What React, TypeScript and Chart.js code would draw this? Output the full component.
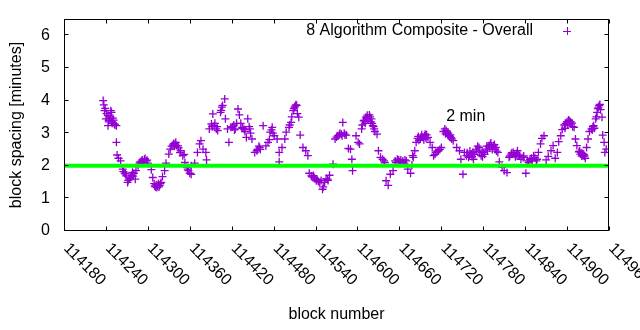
import React, { useEffect, useRef } from "react";
import { Chart, registerables } from "chart.js";

Chart.register(...registerables);

const blocks = [
  114236, 114237, 114238, 114239, 114240, 114241, 114243, 114243, 114244, 114245,
  114246, 114247, 114248, 114248, 114249, 114250, 114251, 114252, 114253, 114255,
  114255, 114256, 114258, 114261, 114264, 114265, 114267, 114268, 114269, 114271,
  114272, 114274, 114275, 114277, 114278, 114279, 114280, 114282, 114283, 114286,
  114288, 114289, 114291, 114292, 114294, 114295, 114296, 114298, 114299, 114300,
  114305, 114307, 114309, 114310, 114311, 114312, 114313, 114314, 114315, 114316,
  114317, 114318, 114319, 114321, 114324, 114326, 114330, 114332, 114334, 114336,
  114337, 114338, 114339, 114340, 114341, 114343, 114344, 114346, 114347, 114350,
  114352, 114353, 114356, 114357, 114358, 114360, 114362, 114362, 114367, 114371,
  114374, 114376, 114379, 114383, 114384, 114388, 114391, 114392, 114393, 114395,
  114396, 114398, 114399, 114400, 114404, 114405, 114406, 114407, 114410, 114411,
  114414, 114416, 114419, 114421, 114423, 114424, 114425, 114427, 114429, 114431,
  114433, 114435, 114436, 114438, 114439, 114441, 114443, 114445, 114446, 114447,
  114449, 114453, 114456, 114457, 114459, 114460, 114461, 114465, 114469, 114472,
  114474, 114475, 114477, 114478, 114479, 114481, 114485, 114488, 114488, 114492,
  114496, 114498, 114502, 114503, 114505, 114506, 114508, 114509, 114510, 114511,
  114512, 114513, 114514, 114516, 114518, 114522, 114526, 114529, 114531, 114534,
  114535, 114537, 114538, 114539, 114541, 114542, 114544, 114546, 114548, 114550,
  114551, 114553, 114555, 114557, 114558, 114560, 114565, 114568, 114570, 114572,
  114574, 114575, 114577, 114578, 114579, 114581, 114582, 114584, 114587, 114590,
  114592, 114593, 114598, 114601, 114603, 114606, 114607, 114609, 114610, 114611,
  114612, 114613, 114614, 114615, 114617, 114618, 114619, 114620, 114621, 114622,
  114623, 114624, 114625, 114628, 114630, 114633, 114636, 114638, 114639, 114641,
  114644, 114647, 114651, 114654, 114655, 114657, 114659, 114660, 114662, 114664,
  114665, 114667, 114668, 114670, 114672, 114676, 114678, 114679, 114680, 114682,
  114684, 114686, 114687, 114688, 114690, 114691, 114692, 114694, 114695, 114696,
  114697, 114698, 114699, 114701, 114704, 114707, 114709, 114711, 114712, 114714,
  114716, 114718, 114720, 114723, 114725, 114726, 114727, 114728, 114729, 114730,
  114731, 114732, 114733, 114734, 114735, 114737, 114742, 114746, 114748, 114751,
  114753, 114756, 114757, 114759, 114760, 114761, 114763, 114764, 114765, 114766,
  114768, 114770, 114771, 114772, 114774, 114775, 114777, 114778, 114779, 114780,
  114782, 114784, 114785, 114786, 114788, 114789, 114790, 114791, 114792, 114793,
  114795, 114796, 114797, 114798, 114799, 114801, 114803, 114807, 114810, 114814,
  114817, 114818, 114820, 114821, 114823, 114824, 114826, 114827, 114828, 114829,
  114830, 114832, 114834, 114837, 114838, 114841, 114843, 114845, 114847, 114849,
  114850, 114852, 114854, 114856, 114857, 114859, 114862, 114864, 114867, 114870,
  114873, 114877, 114880, 114883, 114886, 114888, 114891, 114893, 114896, 114897,
  114898, 114900, 114901, 114902, 114903, 114904, 114905, 114907, 114908, 114910,
  114912, 114914, 114917, 114918, 114919, 114920, 114921, 114922, 114923, 114924,
  114925, 114926, 114928, 114930, 114932, 114935, 114936, 114937, 114938, 114939,
  114941, 114942, 114943, 114944, 114945, 114946, 114947, 114948, 114950, 114951,
  114953, 114954, 114956,
];

const spacing = [
  4.0, 3.87, 3.69, 3.76, 3.44, 3.6, 3.54, 3.23, 3.38, 3.44,
  3.5, 3.69, 3.35, 3.64, 3.3, 3.46, 3.4, 3.28, 3.25, 3.23,
  2.72, 2.33, 2.23, 2.15, 1.9, 1.82, 1.77, 1.75, 1.69, 1.49,
  1.55, 1.61, 1.65, 1.71, 1.8, 1.68, 1.77, 1.59, 1.85, 2.0,
  2.08, 2.12, 2.14, 2.18, 2.1, 2.2, 2.22, 2.15, 2.17, 2.08,
  1.88, 1.64, 1.45, 1.38, 1.35, 1.42, 1.33, 1.38, 1.45, 1.35,
  1.4, 1.45, 1.49, 1.67, 1.85, 2.08, 2.36, 2.51, 2.6, 2.64,
  2.68, 2.6, 2.67, 2.72, 2.62, 2.61, 2.55, 2.4, 2.46, 2.31,
  2.35, 2.1, 1.95, 1.9, 1.85, 1.77, 2.0, 1.74, 2.08, 2.41,
  2.67, 2.77, 2.51, 2.41, 2.18, 3.13, 3.28, 3.2, 3.59, 3.23,
  3.3, 3.13, 3.2, 3.08, 3.64, 3.7, 3.8, 3.85, 4.05, 3.44,
  3.13, 2.72, 3.18, 3.2, 3.25, 3.1, 3.13, 3.3, 3.74, 3.56,
  3.3, 3.18, 3.15, 3.11, 3.05, 2.87, 3.44, 3.2, 3.13, 3.0,
  2.82, 2.41, 2.46, 2.5, 2.6, 2.56, 2.5, 3.23, 2.61, 2.72,
  2.8, 3.03, 3.1, 3.18, 3.0, 2.92, 2.82, 2.41, 2.12, 2.56,
  2.82, 3.03, 3.18, 3.25, 3.33, 3.5, 3.69, 3.75, 3.8, 3.83,
  3.87, 3.85, 3.6, 3.49, 2.94, 2.56, 2.46, 2.31, 1.77, 1.69,
  1.66, 1.7, 1.64, 1.6, 1.54, 1.58, 1.52, 1.49, 1.55, 1.28,
  1.35, 1.49, 1.6, 1.59, 1.55, 1.71, 2.05, 2.82, 2.88, 2.92,
  2.95, 3.0, 2.97, 2.92, 3.33, 3.0, 2.95, 2.94, 2.53, 2.51,
  2.2, 1.85, 2.92, 2.72, 2.67, 3.13, 3.25, 3.38, 3.4, 3.3,
  3.49, 3.45, 3.55, 3.4, 3.56, 3.5, 3.35, 3.44, 3.3, 3.23,
  3.2, 3.13, 3.05, 2.97, 2.46, 2.26, 2.2, 2.15, 2.1, 1.54,
  1.4, 1.74, 1.85, 2.15, 2.1, 2.2, 2.18, 2.12, 2.18, 2.1,
  2.15, 2.08, 2.18, 2.15, 1.9, 1.77, 2.02, 2.31, 2.26, 2.46,
  2.72, 2.84, 2.9, 2.78, 2.82, 2.88, 2.95, 2.87, 2.8, 2.92,
  2.97, 2.85, 2.95, 2.87, 2.72, 2.56, 2.31, 2.35, 2.41, 2.45,
  2.46, 2.5, 2.56, 3.05, 3.13, 2.98, 3.08, 3.03, 2.95, 3.0,
  2.92, 2.9, 2.95, 2.87, 2.82, 2.77, 2.56, 2.46, 2.2, 1.74,
  2.41, 2.31, 2.4, 2.26, 2.3, 2.45, 2.36, 2.28, 2.4, 2.2,
  2.35, 2.51, 2.45, 2.6, 2.56, 2.45, 2.31, 2.4, 2.28, 2.41,
  2.35, 2.51, 2.6, 2.45, 2.61, 2.55, 2.65, 2.7, 2.6, 2.5,
  2.61, 2.65, 2.5, 2.56, 2.45, 2.41, 2.12, 1.95, 1.85, 1.79,
  2.26, 2.3, 2.36, 2.4, 2.41, 2.35, 2.28, 2.31, 2.38, 2.46,
  2.33, 2.31, 2.2, 2.26, 2.3, 1.77, 2.15, 2.1, 2.2, 2.23,
  2.15, 2.31, 2.25, 2.15, 2.2, 2.41, 2.67, 2.84, 2.92, 2.18,
  2.29, 2.46, 2.62, 2.23, 2.41, 2.74, 2.92, 3.11, 3.25, 3.15,
  3.3, 3.35, 3.25, 3.4, 3.38, 3.3, 3.35, 3.31, 3.2, 3.18,
  2.82, 2.62, 2.43, 2.45, 2.36, 2.4, 2.3, 2.38, 2.31, 2.35,
  2.3, 2.23, 2.56, 2.82, 3.05, 3.13, 3.1, 3.2, 3.23, 3.15,
  3.44, 3.5, 3.64, 3.75, 3.8, 3.85, 3.88, 3.72, 3.49, 2.94,
  2.72, 2.41, 2.51,
];

const targetSpacing = 2;
const xMin = 114180;
const xMax = 114960;
const yMin = 0;
const yMax = 6.5;
const xTicks = [114180, 114240, 114300, 114360, 114420, 114480, 114540, 114600, 114660, 114720, 114780, 114840, 114900, 114960];
const yTicks = [0, 1, 2, 3, 4, 5, 6];
const seriesLabel = "8 Algorithm Composite - Overall";
const targetLabel = "2 min";
const targetLabelPos = { x: 114727, y: 3.5 };
const xTitle = "block number";
const yTitle = "block spacing [minutes]";

const FONT = '16px "Liberation Sans", Arial, sans-serif';
const PURPLE = "#9400d3";
const GREEN = "#00ff00";
const TEXT = "#000000";

const decorPlugin = {
  id: "decor",
  afterDraw(chart: any) {
    const { ctx, chartArea: a, scales } = chart;
    const x = scales.x;
    const y = scales.y;
    const L = Math.round(a.left) + 0.5;
    const R = Math.round(a.right) - 0.5;
    const T = Math.round(a.top) + 0.5;
    const B = Math.round(a.bottom) - 0.5;
    ctx.save();
    ctx.strokeStyle = "#000";
    ctx.lineWidth = 1;
    ctx.strokeRect(L, T, R - L, B - T);
    const tl = 4;
    ctx.beginPath();
    for (const v of xTicks) {
      const px = Math.round(x.getPixelForValue(v)) + 0.5;
      ctx.moveTo(px, B);
      ctx.lineTo(px, B - tl);
      ctx.moveTo(px, T);
      ctx.lineTo(px, T + tl);
    }
    for (const v of yTicks) {
      const py = Math.round(y.getPixelForValue(v)) - 0.5;
      ctx.moveTo(L, py);
      ctx.lineTo(L + tl, py);
      ctx.moveTo(R, py);
      ctx.lineTo(R - tl, py);
    }
    ctx.stroke();

    ctx.fillStyle = TEXT;
    ctx.font = FONT;
    ctx.textAlign = "right";
    ctx.textBaseline = "middle";
    for (const v of yTicks) {
      ctx.fillText(String(v), a.left - 14, y.getPixelForValue(v));
    }
    for (const v of xTicks) {
      const px = x.getPixelForValue(v);
      ctx.save();
      ctx.translate(px + 2, a.bottom + 15);
      ctx.rotate(Math.PI / 4);
      ctx.textAlign = "left";
      ctx.textBaseline = "middle";
      ctx.fillText(String(v), 0, 0);
      ctx.restore();
    }
    ctx.textAlign = "center";
    ctx.textBaseline = "middle";
    ctx.fillText(xTitle, (a.left + a.right) / 2, 315);
    ctx.save();
    ctx.translate(17, (a.top + a.bottom) / 2);
    ctx.rotate(-Math.PI / 2);
    ctx.fillText(yTitle, 0, 0);
    ctx.restore();

    ctx.textAlign = "right";
    ctx.textBaseline = "middle";
    ctx.fillText(seriesLabel, 533, 31);
    ctx.strokeStyle = PURPLE;
    ctx.beginPath();
    ctx.moveTo(563, 31.5);
    ctx.lineTo(571, 31.5);
    ctx.moveTo(567.5, 27);
    ctx.lineTo(567.5, 35);
    ctx.stroke();

    ctx.textAlign = "left";
    ctx.textBaseline = "middle";
    ctx.fillText(targetLabel, x.getPixelForValue(targetLabelPos.x), y.getPixelForValue(targetLabelPos.y));
    ctx.restore();
  },
};

export default function App() {
  const ref = useRef<HTMLCanvasElement | null>(null);
  useEffect(() => {
    if (!ref.current) return;
    const points = blocks.map((b, i) => ({ x: b, y: spacing[i] }));
    const chart = new Chart(ref.current, {
      type: "scatter",
      data: {
        datasets: [
          {
            type: "scatter",
            label: seriesLabel,
            data: points,
            pointStyle: "cross",
            pointRadius: 4,
            pointBorderWidth: 1.3,
            borderWidth: 1.3,
            borderColor: PURPLE,
            backgroundColor: PURPLE,
            order: 2,
          } as any,
          {
            type: "line",
            label: targetLabel,
            data: [
              { x: xMin, y: targetSpacing },
              { x: xMax, y: targetSpacing },
            ],
            borderColor: GREEN,
            borderWidth: 4,
            pointRadius: 0,
            order: 1,
          } as any,
        ],
      },
      options: {
        responsive: false,
        animation: false,
        devicePixelRatio: 1,
        layout: { padding: { left: 64, right: 31, top: 19, bottom: 99 } },
        plugins: { legend: { display: false }, tooltip: { enabled: false } },
        scales: {
          x: { type: "linear", min: xMin, max: xMax, display: false },
          y: { type: "linear", min: yMin, max: yMax, display: false },
        },
      },
      plugins: [decorPlugin],
    });
    return () => chart.destroy();
  }, []);
  return (
    <div style={{ position: "fixed", left: 0, top: 0, width: 640, height: 330, background: "#fff" }}>
      <canvas ref={ref} width={640} height={330} />
    </div>
  );
}
